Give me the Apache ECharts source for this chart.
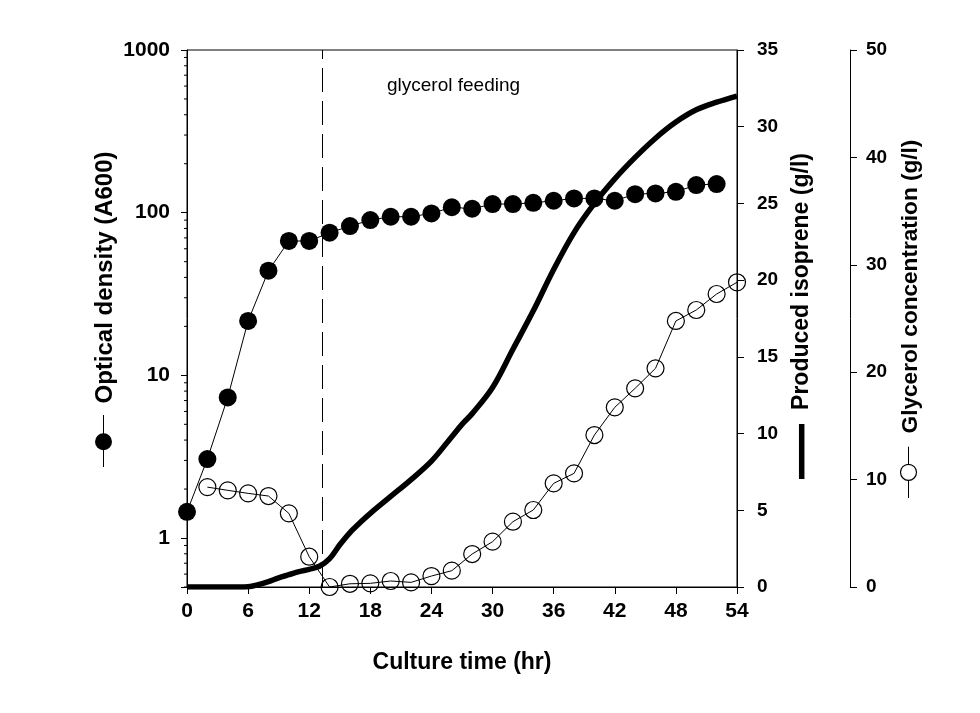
<!DOCTYPE html>
<html><head><meta charset="utf-8">
<script src="https://cdn.jsdelivr.net/npm/echarts@6/dist/echarts.min.js"></script>
<style>html,body{margin:0;padding:0;background:#fff}#c{width:980px;height:713px}</style>
</head><body><div id="c"></div>
<script>
// ---- data ----
const odHours = [0,2,4,6,8,10,12,14,16,18,20,22,24,26,28,30,32,34,36,38,40,42,44,46,48,50,52];
const odValues = [1.45,3.06,7.32,21.6,44,67,67,75.3,82.7,90,94.4,94.4,99,108,105.7,113,113,115,118.4,122.4,122.4,118.4,130,131.4,134.4,147.8,150];

const glyHours = [2,4,6,8,10,12,14,16,18,20,22,24,26,28,30,32,34,36,38,40,42,44,46,48,50,52,54];
const glyValues = [9.3,9.0,8.72,8.47,6.86,2.82,0.0,0.3,0.34,0.56,0.43,1.02,1.52,3.07,4.22,6.08,7.17,9.65,10.58,14.15,16.73,18.5,20.36,24.77,25.79,27.28,28.37];

const isoHours = [0,2,4,6,7,8,9,10,11,12,13,14,15,16,17,18,20,22,24,26,27,28,30,32,34,36,38,40,42,44,46,48,50,52,54];
const isoValues = [0,0,0,0.02,0.15,0.35,0.6,0.8,1.0,1.15,1.35,1.85,2.75,3.55,4.2,4.8,5.9,7.0,8.2,9.8,10.6,11.3,13.0,15.5,18.0,20.7,23.1,25.0,26.6,28.0,29.25,30.3,31.1,31.6,32.0];

const feedTime = 13.3;
const odTickLabels = [1,10,100,1000];
const isoTicks = {min:0, max:35, interval:5};
const glyTicks = {min:0, max:50, interval:10};
const xTicks = {min:0, max:54, interval:6};

const zip = (a,b) => a.map((v,i)=>[v,b[i]]);
const FONT = '"Liberation Sans", Arial, sans-serif';

const chart = echarts.init(document.getElementById('c'), null, {renderer:'canvas'});
const axisCommon = {
  axisLine:{show:true, lineStyle:{color:'#000', width:1}},
  splitLine:{show:false},
  axisTick:{show:true, inside:false, length:7, lineStyle:{color:'#000', width:1}}
};
chart.setOption({
  animation:false,
  backgroundColor:'#fff',
  grid:{left:187, right:243, top:50, bottom:126, show:true, borderColor:'#000', borderWidth:1, outerBoundsMode:'none'},
  xAxis:[Object.assign({}, axisCommon, {
    type:'value', min:xTicks.min, max:xTicks.max, interval:xTicks.interval,
    axisLabel:{color:'#000', fontFamily:FONT, fontWeight:'bold', fontSize:21, margin:14},
    name:'Culture time (hr)', nameLocation:'middle', nameGap:64,
    nameTextStyle:{color:'#000', fontFamily:FONT, fontWeight:'bold', fontSize:23}
  })],
  yAxis:[
    Object.assign({}, axisCommon, {
      type:'log', logBase:10, min:0.5, max:1000, position:'left',
      axisTick:{show:true, inside:false, length:6, lineStyle:{color:'#000', width:1}},
      axisLabel:{color:'#000', fontFamily:FONT, fontWeight:'bold', fontSize:21, margin:17,
        formatter:v=>{const m=odTickLabels.find(t=>Math.abs(t-v)<1e-6*t); return m?String(m):'';}}
    }),
    Object.assign({}, axisCommon, {
      type:'value', position:'right', offset:0, min:isoTicks.min, max:isoTicks.max, interval:isoTicks.interval,
      axisLabel:{color:'#000', fontFamily:FONT, fontWeight:'bold', fontSize:19, margin:20}
    }),
    Object.assign({}, axisCommon, {
      type:'value', position:'right', offset:113, min:glyTicks.min, max:glyTicks.max, interval:glyTicks.interval,
      axisLabel:{color:'#000', fontFamily:FONT, fontWeight:'bold', fontSize:19, margin:16}
    })
  ],
  series:[
    {
      name:'Isoprene', type:'line', yAxisIndex:1, data:zip(isoHours,isoValues),
      smooth:0.35, showSymbol:false, symbol:'none',
      lineStyle:{color:'#000', width:5.5}, z:2
    },
    {
      name:'Glycerol', type:'line', yAxisIndex:2, data:zip(glyHours,glyValues),
      symbol:'circle', symbolSize:17,
      itemStyle:{color:'rgba(0,0,0,0)', borderColor:'#000', borderWidth:1.2},
      lineStyle:{color:'#000', width:1}, z:3
    },
    {
      name:'OD', type:'line', yAxisIndex:0, data:zip(odHours,odValues),
      symbol:'circle', symbolSize:18,
      itemStyle:{color:'#000'}, lineStyle:{color:'#000', width:1}, z:4,
      markLine:{silent:true, symbol:'none', label:{show:false},
        lineStyle:{color:'#000', width:1, type:[24,9]},
        data:[{xAxis:feedTime}]}
    }
  ]
});

// minor ticks on the log axis & titles with legend glyphs
const graphics = [];
const x0 = chart.convertToPixel({xAxisIndex:0}, 0);
for (let e=-1; e<3; e++) for (let k=2; k<=9; k++) {
  const v = k*Math.pow(10,e);
  if (v < 0.5 || v > 1000) continue;
  const py = chart.convertToPixel({yAxisIndex:0}, v);
  graphics.push({type:'line', shape:{x1:x0-3, y1:py, x2:x0, y2:py}, style:{stroke:'#000', lineWidth:1}});
}
const titleFont = 'bold 23px ' + FONT;
graphics.push(
  {type:'text', x:105, y:277.5, rotation:Math.PI/2, style:{text:'Optical density (A600)', font:'bold 24px ' + FONT, fill:'#000', align:'center', verticalAlign:'middle'}},
  {type:'line', shape:{x1:103.5, y1:415, x2:103.5, y2:467}, style:{stroke:'#000', lineWidth:1}},
  {type:'circle', shape:{cx:103.5, cy:441.7, r:8.5}, style:{fill:'#000'}},
  {type:'text', x:802, y:281.5, rotation:Math.PI/2, style:{text:'Produced isoprene (g/l)', font:titleFont, fill:'#000', align:'center', verticalAlign:'middle'}},
  {type:'line', shape:{x1:801.7, y1:424, x2:801.7, y2:479}, style:{stroke:'#000', lineWidth:5.5}},
  {type:'text', x:911, y:286.5, rotation:Math.PI/2, style:{text:'Glycerol concentration (g/l)', font:'bold 22.6px ' + FONT, fill:'#000', align:'center', verticalAlign:'middle'}},
  {type:'line', shape:{x1:908.5, y1:446.7, x2:908.5, y2:498}, style:{stroke:'#000', lineWidth:1}},
  {type:'circle', shape:{cx:908.5, cy:472.3, r:8}, style:{fill:'#fff', stroke:'#000', lineWidth:1.2}},
  {type:'text', x:387, y:86, style:{text:'glycerol feeding', font:'19px ' + FONT, fill:'#000', align:'left', verticalAlign:'middle'}}
);
chart.setOption({graphic:graphics});
</script></body></html>
